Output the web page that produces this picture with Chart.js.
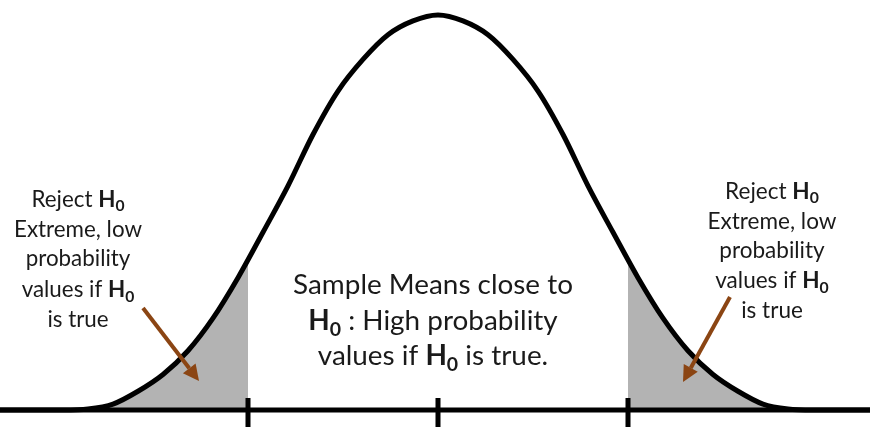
<!DOCTYPE html>
<html>
<head>
<meta charset="utf-8">
<script src="https://cdn.jsdelivr.net/npm/chart.js@4.4.1/dist/chart.umd.min.js"></script>
<style>
  html, body { margin: 0; padding: 0; background: #ffffff; }
  #wrap { width: 870px; height: 427px; }
</style>
</head>
<body>
<div id="wrap"><canvas id="bell"></canvas></div>
<script>
// curve: distance from the mean (sd units) and height
const curveX = [-4.4, -3.75, -3.5, -3.25, -3, -2.75, -2.5, -2.25, -2, -1.75, -1.5, -1.25, -1, -0.75, -0.5, -0.25,
  0, 0.25, 0.5, 0.75, 1, 1.25, 1.5, 1.75, 2, 2.25, 2.5, 2.75, 3, 3.25, 3.5, 3.75, 4.4];
const curveY = [0, 0, 0.001, 0.006, 0.019, 0.036, 0.06, 0.093, 0.134, 0.18, 0.227, 0.279, 0.323, 0.355, 0.38, 0.394,
  0.4, 0.394, 0.38, 0.355, 0.323, 0.279, 0.227, 0.18, 0.134, 0.093, 0.06, 0.036, 0.019, 0.006, 0.001, 0, 0];

// rejection cut-offs and the curve height there
const critX = [-1.9, 1.9];
const critY = [0.152, 0.152];

// tick marks on the axis
const tickX = [-1.9, 0, 1.9];

const curvePts = curveX.map((x, i) => ({ x: x, y: curveY[i] }));

function tail(side) {
  // side -1 = left tail, 1 = right tail
  const cut = side < 0 ? critX[0] : critX[1];
  const h = side < 0 ? critY[0] : critY[1];
  let pts = curvePts.filter((p) => (side < 0 ? p.x < cut : p.x > cut));
  pts.push({ x: cut, y: h });
  pts.sort((a, b) => a.x - b.x);
  return pts;
}

const grey = "#b3b3b3";
const brown = "#8b4513";

let datasets = [
  { data: tail(-1), borderWidth: 0, backgroundColor: grey, fill: "origin", cubicInterpolationMode: "monotone", order: 5 },
  { data: tail(1), borderWidth: 0, backgroundColor: grey, fill: "origin", cubicInterpolationMode: "monotone", order: 5 },
  { data: [{ x: -4.5, y: 0 }, { x: 4.5, y: 0 }], borderColor: "#000", borderWidth: 5, order: 3 },
];
for (const t of tickX) {
  datasets.push({ data: [{ x: t, y: 0.0122 }, { x: t, y: -0.03 }], borderColor: "#000", borderWidth: 5, order: 2 });
}
datasets.push({ data: curvePts, borderColor: "#000", borderWidth: 5, cubicInterpolationMode: "monotone", order: 1 });

// annotations, in data units
const arrows = [
  { from: [-2.95, 0.1033], to: [-2.39, 0.0294] },
  { from: [2.92, 0.1144], to: [2.45, 0.0284] },
];

const H = [{ t: "H", b: true }, { t: "0", b: true, sub: true }];
const sideLines = [
  [{ t: "Reject " }, ...H],
  [{ t: "Extreme, low" }],
  [{ t: "probability" }],
  [{ t: "values if " }, ...H],
  [{ t: "is true" }],
];
const textBlocks = [
  { x: -3.6, ys: [0.2056, 0.1752, 0.1458, 0.1144, 0.084], lines: sideLines, fitLine: 1, fitWidth: 128 },
  { x: 3.34, ys: [0.2137, 0.1833, 0.1539, 0.1235, 0.0932], lines: sideLines, fitLine: 1, fitWidth: 129 },
  {
    x: -0.05,
    ys: [0.1175, 0.081, 0.0456],
    lines: [
      [{ t: "Sample Means close to" }],
      [...H, { t: " : High probability" }],
      [{ t: "values if " }, ...H, { t: " is true." }],
    ],
    fitLine: 0,
    fitWidth: 280,
  },
];

const family = "Lato, 'Open Sans', sans-serif";

function segFont(seg, size) {
  const s = seg.sub ? size * 0.7 : size;
  return (seg.b ? "bold " : "") + s.toFixed(2) + "px " + family;
}

function lineWidth(ctx, line, size) {
  let w = 0;
  for (const seg of line) {
    ctx.font = segFont(seg, size);
    w += ctx.measureText(seg.t).width;
  }
  return w;
}

const notes = {
  id: "notes",
  afterDraw(chart) {
    const ctx = chart.ctx;
    const xs = chart.scales.x;
    const ys = chart.scales.y;
    ctx.save();

    // arrows
    ctx.strokeStyle = brown;
    ctx.fillStyle = brown;
    ctx.lineWidth = 4;
    for (const a of arrows) {
      const x0 = xs.getPixelForValue(a.from[0]);
      const y0 = ys.getPixelForValue(a.from[1]);
      const x1 = xs.getPixelForValue(a.to[0]);
      const y1 = ys.getPixelForValue(a.to[1]);
      const ang = Math.atan2(y1 - y0, x1 - x0);
      const head = 16;
      const bx = x1 - head * Math.cos(ang);
      const by = y1 - head * Math.sin(ang);
      ctx.beginPath();
      ctx.moveTo(x0, y0);
      ctx.lineTo(bx, by);
      ctx.stroke();
      ctx.beginPath();
      ctx.moveTo(x1, y1);
      ctx.lineTo(bx + 8 * Math.sin(ang), by - 8 * Math.cos(ang));
      ctx.lineTo(bx - 8 * Math.sin(ang), by + 8 * Math.cos(ang));
      ctx.closePath();
      ctx.fill();
    }

    // text
    ctx.fillStyle = "#1a1a1a";
    ctx.textBaseline = "alphabetic";
    ctx.textAlign = "left";
    for (const blk of textBlocks) {
      const size = (100 * blk.fitWidth) / lineWidth(ctx, blk.lines[blk.fitLine], 100);
      const cx = xs.getPixelForValue(blk.x);
      blk.lines.forEach((line, i) => {
        const by = ys.getPixelForValue(blk.ys[i]);
        let x = cx - lineWidth(ctx, line, size) / 2;
        for (const seg of line) {
          ctx.font = segFont(seg, size);
          ctx.fillText(seg.t, x, seg.sub ? by + size * 0.2 : by);
          x += ctx.measureText(seg.t).width;
        }
      });
    }
    ctx.restore();
  },
};

new Chart(document.getElementById("bell"), {
  type: "line",
  data: { datasets: datasets },
  plugins: [notes],
  options: {
    responsive: true,
    maintainAspectRatio: false,
    animation: false,
    layout: { padding: 0 },
    elements: { point: { radius: 0 }, line: { tension: 0 } },
    scales: {
      x: { type: "linear", min: -4.38, max: 4.32, display: false },
      y: { type: "linear", min: -0.0172, max: 0.4152, display: false },
    },
    plugins: {
      legend: { display: false },
      tooltip: { enabled: false },
    },
  },
});
</script>
</body>
</html>
